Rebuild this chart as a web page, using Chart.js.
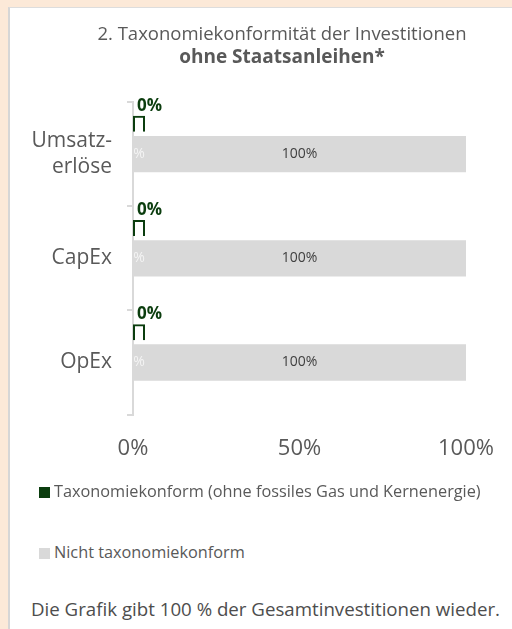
<!DOCTYPE html>
<html lang="de">
<head>
<meta charset="utf-8">
<title>Taxonomiekonformität der Investitionen</title>
<script src="https://cdn.jsdelivr.net/npm/chart.js@4.4.1/dist/chart.umd.min.js"></script>
<style>
    html, body {
        margin: 0;
        padding: 0;
        width: 512px;
        height: 629px;
        overflow: hidden;
        background: #FCE9D8;
        font-family: "Open Sans", sans-serif;
    }
    #panel {
        position: absolute;
        left: 8px;
        top: 7px;
        width: 520px;
        height: 640px;
        background: #ffffff;
        border-left: 2px solid #D6D6D6;
        border-top: 1px solid #DDDDDD;
    }
    #chartBox {
        position: absolute;
        left: 10px;
        top: 10px;
        width: 544px;
        height: 473px;
    }
    #legend {
        position: absolute;
        left: 39px;
        top: 480px;
    }
    .legend-item {
        position: absolute;
        left: 0;
        white-space: nowrap;
        font-size: 16.3px;
        color: #595959;
        line-height: 22px;
    }
    .legend-item span.box {
        display: inline-block;
        width: 11px;
        height: 11px;
        margin-right: 4px;
        vertical-align: -1px;
    }
    #footer {
        position: absolute;
        left: 31px;
        top: 596px;
        font-size: 18.7px;
        color: #4D4D4D;
        white-space: nowrap;
    }
</style>
</head>
<body>
<div id="panel"></div>
<div id="chartBox"><canvas id="taxChart"></canvas></div>
<div id="legend"></div>
<div id="footer">Die Grafik gibt 100 % der Gesamtinvestitionen wieder.</div>

<script>
// Daten
const categories = [['Umsatz-', 'erlöse'], 'CapEx', 'OpEx'];
const alignedValues = [0, 0, 0];
const notAlignedValues = [100, 100, 100];
const xTicks = [0, 50, 100];
const seriesLabels = [
    'Taxonomiekonform (ohne fossiles Gas und Kernenergie)',
    'Nicht taxonomiekonform'
];

const GREEN = '#0B3D0E';
const GREY = '#D9D9D9';
const TEXT = '#595959';
const FONT = '"Open Sans", sans-serif';

// Beschriftungen an den Balken
const barLabels = {
    id: 'barLabels',
    afterDatasetsDraw(chart) {
        const ctx = chart.ctx;
        const area = chart.chartArea;
        ctx.save();

        chart.getDatasetMeta(0).data.forEach((bar, i) => {
            ctx.font = 'bold 17px ' + FONT;
            ctx.fillStyle = GREEN;
            ctx.textAlign = 'left';
            ctx.textBaseline = 'middle';
            ctx.fillText(alignedValues[i] + '%', bar.base + 4, bar.y - 18);
        });

        chart.getDatasetMeta(1).data.forEach((bar, i) => {
            ctx.font = '14px ' + FONT;
            ctx.textBaseline = 'middle';
            ctx.textAlign = 'center';
            ctx.fillStyle = '#404040';
            ctx.fillText(notAlignedValues[i] + '%', (bar.base + bar.x) / 2, bar.y);

            // halb verdeckte Null-Beschriftung am Achsenanfang
            ctx.save();
            ctx.beginPath();
            ctx.rect(area.left + 1, area.top, area.width, area.height);
            ctx.clip();
            ctx.fillStyle = '#F4F4F4';
            ctx.fillText(alignedValues[i] + '%', bar.base + 2, bar.y);
            ctx.restore();
        });

        ctx.restore();
    }
};

const chart = new Chart(document.getElementById('taxChart'), {
    type: 'bar',
    data: {
        labels: categories,
        datasets: [
            {
                label: seriesLabels[0],
                data: alignedValues,
                backgroundColor: 'rgba(255,255,255,0)',
                borderColor: GREEN,
                borderWidth: 2,
                borderSkipped: 'bottom',
                minBarLength: 12,
                barPercentage: 0.53,
                categoryPercentage: 0.871
            },
            {
                label: seriesLabels[1],
                data: notAlignedValues,
                backgroundColor: GREY,
                borderWidth: 0,
                barPercentage: 1.2,
                categoryPercentage: 0.871
            },
            {
                // Platzhalter, damit der graue Balken mittig sitzt
                label: '',
                data: [null, null, null],
                backgroundColor: 'rgba(0,0,0,0)',
                categoryPercentage: 0.871
            }
        ]
    },
    options: {
        indexAxis: 'y',
        responsive: true,
        maintainAspectRatio: false,
        animation: false,
        layout: {
            padding: 0
        },
        scales: {
            x: {
                min: xTicks[0],
                max: xTicks[xTicks.length - 1],
                afterBuildTicks: function(scale) {
                    scale.ticks = xTicks.map(v => ({ value: v }));
                },
                grid: { display: false, drawTicks: false },
                border: { display: false },
                ticks: {
                    padding: 21,
                    color: TEXT,
                    font: { size: 22, family: FONT },
                    callback: v => v + '%'
                }
            },
            y: {
                afterFit: function(scale) {
                    scale.width = 123;
                },
                grid: {
                    display: true,
                    offset: true,
                    drawOnChartArea: false,
                    drawTicks: true,
                    tickLength: 6,
                    color: GREY,
                    lineWidth: 2
                },
                border: { display: true, color: GREY, width: 2 },
                ticks: {
                    crossAlign: 'near',
                    padding: 15,
                    color: TEXT,
                    font: { size: 21, family: FONT, lineHeight: 1.2 }
                }
            },
            // leerer Rand rechts, damit der Titel über die ganze Breite zentriert bleibt
            yRight: {
                type: 'category',
                position: 'right',
                afterFit: function(scale) {
                    scale.width = 88;
                },
                grid: { display: false, drawTicks: false },
                border: { display: false },
                ticks: { display: false }
            }
        },
        plugins: {
            legend: { display: false },
            tooltip: { enabled: false },
            title: {
                display: true,
                text: '2. Taxonomiekonformität der Investitionen',
                color: TEXT,
                font: { size: 18.5, family: FONT, weight: 'normal' },
                padding: { top: 14, bottom: 0 }
            },
            subtitle: {
                display: true,
                text: 'ohne Staatsanleihen*',
                color: TEXT,
                font: { size: 19, family: FONT, weight: 'bold' },
                padding: { top: 0, bottom: 33 }
            }
        }
    },
    plugins: [barLabels]
});

// Legende als HTML aus den Datensätzen
const legendEl = document.getElementById('legend');
const rowTops = [0, 61];
chart.data.datasets.filter(ds => ds.label).forEach((ds, i) => {
    const item = document.createElement('div');
    item.className = 'legend-item';
    item.style.top = rowTops[i] + 'px';
    const box = document.createElement('span');
    box.className = 'box';
    box.style.background = ds.borderWidth ? ds.borderColor : ds.backgroundColor;
    item.appendChild(box);
    item.appendChild(document.createTextNode(ds.label));
    legendEl.appendChild(item);
});
</script>
</body>
</html>
